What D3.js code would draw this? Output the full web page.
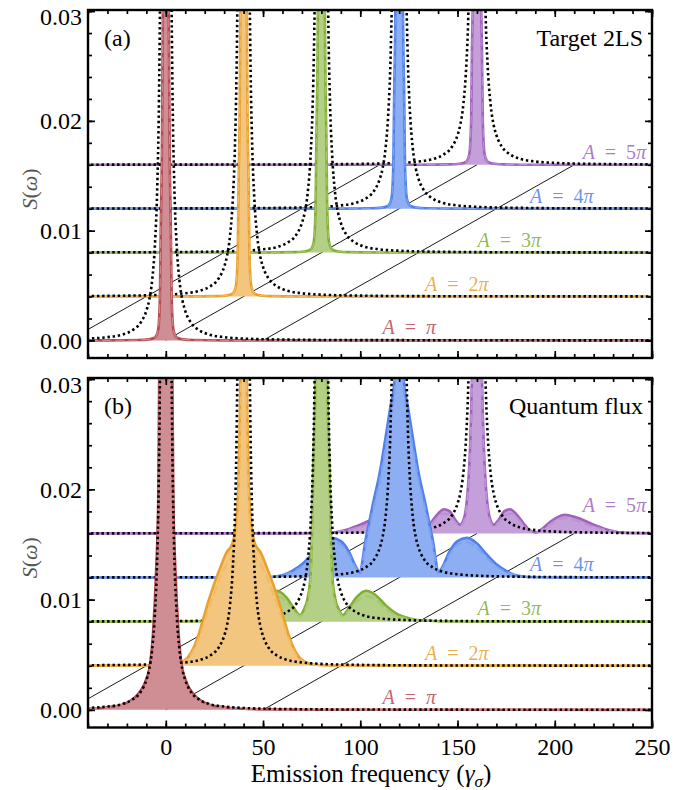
<!DOCTYPE html>
<html>
<head>
<meta charset="utf-8">
<script src="https://cdn.jsdelivr.net/npm/d3@7"></script>
<style>
    body { margin: 0; background: #fff; }
    svg text { font-family: "Liberation Serif", "DejaVu Serif", serif; }
</style>
</head>
<body>
<script>
// Pulse areas, one spectrum per area, stacked as a waterfall
var areaLabels = ['π', '2π', '3π', '4π', '5π'];
var lineColors = ['#b54a53', '#e8a02e', '#83ad35', '#5080ea', '#a062bd'];
var fillColors = ['#cf8e94', '#f2c67f', '#b3d086', '#8eaef3', '#c49fd9'];
var dashColors = ['#d68991', '#f3bb62', '#a5c96c', '#7ea2f2', '#bc92d3'];

// Waterfall shift between two successive spectra
var freqShift = 40,
    levelShift = 0.004;

// Guide lines drawn across the waterfall (frequency in the first spectrum's frame)
var guideFreqs = [-50, 0, 50];

// Axis ticks
var xTicks = [0, 50, 100, 150, 200, 250];
var yTicks = [0, 0.01, 0.02, 0.03];

// Spectrum profiles: offset from the line centre (gamma_sigma) and S(w) above the
// spectrum's own baseline. Every profile is symmetric, so only one side is listed.

// black dotted reference line (same in both panels)
var refFreq = [0, 1.5, 2.5, 3, 3.5, 4.5, 5.5, 7, 8.5, 10, 13, 17, 22, 30, 40, 60, 100, 300];
var refS    = [0.2, 0.06, 0.04, 0.03, 0.022, 0.0133, 0.009, 0.0055, 0.0037, 0.0027, 0.0016, 0.00095, 0.00055, 0.0003, 0.00017, 0.00008, 0.00003, 0];

// (a) target two-level system: the same narrow line for every area
var targetFreq = [0, 1, 1.5, 2, 2.6, 3, 3.9, 5, 6.5, 9, 14, 30, 300];
var targetS    = [0.1, 0.05, 0.03, 0.017, 0.01, 0.004, 0.001, 0.0004, 0.0002, 0.0001, 0.00004, 0.00001, 0];

// (b) quantum flux, solid line and lighter dashed line
var fluxFreq1 = [0, 2, 3.4, 3.9, 4.9, 6.6, 8.3, 10, 12, 15, 18, 23, 30, 40, 55, 80, 300];
var fluxS1    = [0.12, 0.05, 0.03, 0.019, 0.0129, 0.0069, 0.0039, 0.0028, 0.002, 0.0013, 0.00084, 0.00045, 0.00024, 0.0001, 0.00004, 0.00001, 0];
var fluxDash1 = [0.12, 0.045, 0.026, 0.016, 0.011, 0.0058, 0.0033, 0.0024, 0.0017, 0.0011, 0.0007, 0.0004, 0.0002, 0.00008, 0.00003, 0.00001, 0];

var fluxFreq2 = [0, 1.3, 2.2, 3, 4.4, 6, 8.7, 12, 15, 18, 21, 23, 27, 31, 36, 45, 300];
var fluxS2    = [0.06, 0.03, 0.02, 0.015, 0.0122, 0.011, 0.0103, 0.0089, 0.0075, 0.0059, 0.0041, 0.0029, 0.0012, 0.0004, 0.00012, 0.00002, 0];
var fluxDash2 = [0.06, 0.026, 0.017, 0.0135, 0.0112, 0.0099, 0.0092, 0.008, 0.0066, 0.0051, 0.0035, 0.0025, 0.001, 0.00035, 0.0001, 0.00002, 0];

var fluxFreq3 = [0, 2, 3, 4, 4.6, 5, 5.7, 7, 9, 11, 14, 18, 23, 28, 33, 38, 45, 52, 70, 300];
var fluxS3    = [0.08, 0.035, 0.022, 0.015, 0.0105, 0.007, 0.004, 0.0022, 0.0011, 0.0006, 0.0012, 0.0022, 0.0028, 0.0024, 0.0015, 0.0008, 0.0003, 0.0001, 0.00001, 0];
var fluxDash3 = [0.08, 0.03, 0.019, 0.013, 0.0092, 0.006, 0.0034, 0.0018, 0.0009, 0.0005, 0.001, 0.0018, 0.0023, 0.002, 0.0012, 0.0006, 0.00025, 0.0001, 0.00001, 0];

var fluxFreq4 = [0, 2.3, 4.5, 7, 10, 13.6, 16, 17.5, 19, 20, 22, 26, 30, 34.7, 40, 45, 50, 55, 60, 66, 80, 300];
var fluxS4    = [0.05, 0.018, 0.0155, 0.0127, 0.0095, 0.0066, 0.0045, 0.0032, 0.0014, 0.00045, 0.0009, 0.0024, 0.0033, 0.0036, 0.0031, 0.0021, 0.0012, 0.0006, 0.0002, 0.00005, 0.00001, 0];
var fluxDash4 = [0.05, 0.017, 0.0145, 0.0118, 0.0088, 0.006, 0.004, 0.0027, 0.0012, 0.0004, 0.0008, 0.0021, 0.003, 0.0032, 0.0027, 0.0018, 0.001, 0.0005, 0.00018, 0.00005, 0.00001, 0];

var fluxFreq5 = [0, 2.6, 3.5, 4.5, 5.5, 7, 8.7, 11, 14, 17, 20, 24, 27, 30.5, 34, 38, 45, 52, 60, 68, 77, 90, 300];
var fluxS5    = [0.06, 0.014, 0.008, 0.0045, 0.0025, 0.0012, 0.0008, 0.0012, 0.002, 0.0022, 0.0018, 0.0009, 0.0003, 0.0001, 0.0005, 0.0011, 0.0017, 0.0014, 0.0008, 0.0003, 0.00005, 0.00001, 0];
var fluxDash5 = [0.06, 0.013, 0.0072, 0.004, 0.0022, 0.001, 0.0007, 0.001, 0.0016, 0.0018, 0.0015, 0.0007, 0.00025, 0.0001, 0.0004, 0.0009, 0.0014, 0.0011, 0.0006, 0.00025, 0.00005, 0.00001, 0];


// Frame dimensions
var width = 700,
    height = 790,
    plotLeft = 88,
    plotRight = 652;

var svg = d3.select('body')
    .append('svg')
    .attr('width', width)
    .attr('height', height);

var x = d3.scaleLinear()
    .domain([-40, 250])
    .range([plotLeft, plotRight]);

// Build both sides of a symmetric profile
function mirror(freqs, vals) {
    let pts = [];
    for (let i = freqs.length - 1; i > 0; i--) pts.push({f: -freqs[i], s: vals[i]});
    for (let i = 0; i < freqs.length; i++) pts.push({f: freqs[i], s: vals[i]});
    return pts;
}

var refProfile = mirror(refFreq, refS);
var targetProfile = mirror(targetFreq, targetS);

var panelA = {
    id: 'a', top: 10, bottom: 358, letter: '(a)', title: 'Target 2LS', xLabels: false,
    solid: [0, 1, 2, 3, 4].map(function () { return targetProfile; }),
    dashed: [0, 1, 2, 3, 4].map(function () { return targetProfile; }),
    dashWidth: 1.1,
    labelLift: [6, 6, 6, 6, 6]
};

var panelB = {
    id: 'b', top: 378, bottom: 727.5, letter: '(b)', title: 'Quantum flux', xLabels: true,
    solid: [mirror(fluxFreq1, fluxS1), mirror(fluxFreq2, fluxS2), mirror(fluxFreq3, fluxS3),
            mirror(fluxFreq4, fluxS4), mirror(fluxFreq5, fluxS5)],
    dashed: [mirror(fluxFreq1, fluxDash1), mirror(fluxFreq2, fluxDash2), mirror(fluxFreq3, fluxDash3),
             mirror(fluxFreq4, fluxDash4), mirror(fluxFreq5, fluxDash5)],
    dashWidth: 2,
    labelLift: [6, 6, 7, 7, 21]
};

drawPanel(panelA);
drawPanel(panelB);

// x axis title
var xTitle = svg.append('text')
    .attr('x', 371)
    .attr('y', 782)
    .attr('text-anchor', 'middle')
    .attr('font-size', 25)
    .text('Emission frequency (');
xTitle.append('tspan').attr('font-style', 'italic').text('γ');
xTitle.append('tspan').attr('font-style', 'italic').attr('font-size', 17).attr('dy', 5).text('σ');
xTitle.append('tspan').attr('dy', -5).text(')');


function drawPanel(p) {
    let y = d3.scaleLinear()
        .domain([-0.0016, 0.0301])
        .range([p.bottom, p.top]);

    let g = svg.append('g').attr('class', 'panel-' + p.id);

    g.append('clipPath')
        .attr('id', 'clip-' + p.id)
        .append('rect')
        .attr('x', plotLeft)
        .attr('y', p.top)
        .attr('width', plotRight - plotLeft)
        .attr('height', p.bottom - p.top);

    let plot = g.append('g').attr('clip-path', 'url(#clip-' + p.id + ')');

    // Thin guide lines across the waterfall
    plot.selectAll('.guide')
        .data(guideFreqs)
        .enter()
        .append('line')
        .attr('class', 'guide')
        .attr('x1', function (d) { return x(d); })
        .attr('y1', y(0))
        .attr('x2', function (d) { return x(d + 4 * freqShift); })
        .attr('y2', y(4 * levelShift))
        .attr('stroke', '#000')
        .attr('stroke-width', 0.9);

    // Spectra from the largest area down, so lower ones sit in front
    for (let k = 4; k >= 0; k--) {
        let base = k * levelShift,
            shift = k * freqShift;

        let line = d3.line()
            .curve(d3.curveMonotoneX)
            .x(function (d) { return x(d.f + shift); })
            .y(function (d) { return y(d.s + base); });

        let area = d3.area()
            .curve(d3.curveMonotoneX)
            .x(function (d) { return x(d.f + shift); })
            .y0(y(base))
            .y1(function (d) { return y(d.s + base); });

        plot.append('path')
            .datum(p.solid[k])
            .attr('d', area)
            .attr('fill', fillColors[k]);

        plot.append('path')
            .datum(p.solid[k])
            .attr('d', line)
            .attr('fill', 'none')
            .attr('stroke', lineColors[k])
            .attr('stroke-width', 2.6);

        plot.append('path')
            .datum(p.dashed[k])
            .attr('d', line)
            .attr('fill', 'none')
            .attr('stroke', dashColors[k])
            .attr('stroke-width', p.dashWidth)
            .attr('stroke-dasharray', '9,4');

        plot.append('path')
            .datum(refProfile)
            .attr('d', line)
            .attr('fill', 'none')
            .attr('stroke', '#000')
            .attr('stroke-width', 2.6)
            .attr('stroke-dasharray', '2.4,2.8');
    }

    // Area labels
    g.selectAll('.area-label')
        .data(areaLabels)
        .enter()
        .append('text')
        .attr('class', 'area-label')
        .attr('text-anchor', 'end')
        .attr('x', function (d, i) { return x(139 + 27 * i); })
        .attr('y', function (d, i) { return y(i * levelShift) - p.labelLift[i]; })
        .attr('font-size', 20)
        .attr('fill', function (d, i) { return lineColors[i]; })
        .attr('fill-opacity', 0.85)
        .each(function (d) {
            let t = d3.select(this);
            t.append('tspan').attr('font-style', 'italic').text('A');
            t.append('tspan').text('\u2002=\u2002' + d.replace('π', ''));
            t.append('tspan').attr('font-style', 'italic').text('π');
        });

    // Ticks on all four sides, pointing inwards
    let xMinor = d3.range(-40, 251, 10),
        yMinor = d3.range(0, 0.0301, 0.002);

    function styleAxis(sel) {
        sel.select('.domain').remove();
        sel.selectAll('line').attr('stroke-width', 1.7);
        sel.attr('font-family', '"Liberation Serif", serif').attr('font-size', 24);
        sel.selectAll('text').attr('fill', '#000');
    }

    g.append('g').attr('transform', 'translate(' + plotLeft + ',0)')
        .call(d3.axisLeft(y).tickValues(yMinor).tickSize(-4).tickFormat(''))
        .call(styleAxis);
    g.append('g').attr('transform', 'translate(' + plotLeft + ',0)')
        .call(d3.axisLeft(y).tickValues(yTicks).tickSize(-7).tickPadding(6).tickFormat(d3.format('.2f')))
        .call(styleAxis)
        .selectAll('text')
        .filter(function (d) { return d === 0.03; })
        .attr('dy', '0.55em');   // top label sits a little below its tick, as in the original
    g.append('g').attr('transform', 'translate(' + plotRight + ',0)')
        .call(d3.axisRight(y).tickValues(yMinor).tickSize(-4).tickFormat(''))
        .call(styleAxis);
    g.append('g').attr('transform', 'translate(' + plotRight + ',0)')
        .call(d3.axisRight(y).tickValues(yTicks).tickSize(-7).tickFormat(''))
        .call(styleAxis);
    g.append('g').attr('transform', 'translate(0,' + p.top + ')')
        .call(d3.axisTop(x).tickValues(xMinor).tickSize(-4).tickFormat(''))
        .call(styleAxis);
    g.append('g').attr('transform', 'translate(0,' + p.top + ')')
        .call(d3.axisTop(x).tickValues(xTicks).tickSize(-7).tickFormat(''))
        .call(styleAxis);
    g.append('g').attr('transform', 'translate(0,' + p.bottom + ')')
        .call(d3.axisBottom(x).tickValues(xMinor).tickSize(-4).tickFormat(''))
        .call(styleAxis);
    g.append('g').attr('transform', 'translate(0,' + p.bottom + ')')
        .call(d3.axisBottom(x).tickValues(xTicks).tickSize(-7).tickPadding(10)
            .tickFormat(p.xLabels ? d3.format('d') : ''))
        .call(styleAxis);

    // Frame
    g.append('rect')
        .attr('x', plotLeft)
        .attr('y', p.top)
        .attr('width', plotRight - plotLeft)
        .attr('height', p.bottom - p.top)
        .attr('fill', 'none')
        .attr('stroke', '#000')
        .attr('stroke-width', 2.4);

    // Panel letter and title
    g.append('text')
        .attr('x', 104)
        .attr('y', p.top + 36)
        .attr('font-size', 24)
        .text(p.letter);

    g.append('text')
        .attr('x', 643)
        .attr('y', p.top + 36)
        .attr('text-anchor', 'end')
        .attr('font-size', 24)
        .text(p.title);

    // y axis title
    let yTitle = g.append('text')
        .attr('transform', 'translate(37,' + y(0.0138) + ') rotate(-90)')
        .attr('text-anchor', 'middle')
        .attr('font-size', 22)
        .attr('fill', '#555');
    yTitle.append('tspan').attr('font-style', 'italic').text('S');
    yTitle.append('tspan').text('(');
    yTitle.append('tspan').attr('font-style', 'italic').text('ω');
    yTitle.append('tspan').text(')');
}
</script>
</body>
</html>
